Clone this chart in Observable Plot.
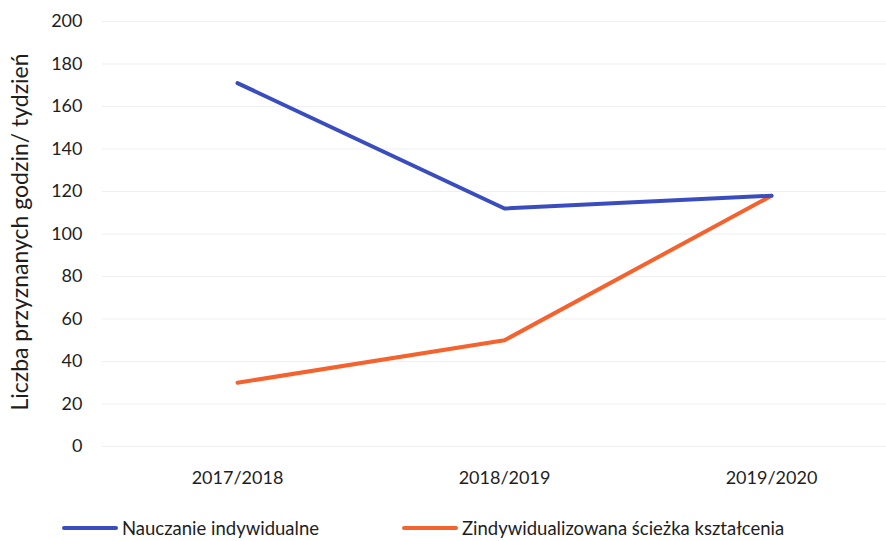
<!DOCTYPE html>
<html><head><meta charset="utf-8">
<script src="https://cdn.jsdelivr.net/npm/d3@7"></script>
<script src="https://cdn.jsdelivr.net/npm/@observablehq/plot@0.6"></script>
<style>
body{margin:0;background:#fff;font-family:Lato,"Open Sans",sans-serif;}
#legend{position:relative;height:41px;font-size:18.5px;color:#1e1e1e;}
.item{position:absolute;top:17px;display:flex;align-items:center;}
.sw{display:inline-block;width:56px;height:4px;border-radius:2px;margin-right:4px;}
</style></head>
<body><div id="chart"></div><div id="legend"></div>
<script>
const years = ["2017/2018","2018/2019","2019/2020"];
const indywidualne = [171, 112, 118];
const sciezka = [30, 50, 118];
const yTicks = [0,20,40,60,80,100,120,140,160,180,200];
const seriesNames = ["Nauczanie indywidualne","Zindywidualizowana ścieżka kształcenia"];
const yLabel = "Liczba przyznanych godzin/ tydzień";
const colors = ["#3a4dbf","#f4622e"];

const blue = years.map((y,i)=>({year:y,value:indywidualne[i]}));
const orange = years.map((y,i)=>({year:y,value:sciezka[i]}));

const plot = Plot.plot({
  width: 886, height: 500,
  marginLeft: 102, marginRight: 0, marginTop: 21, marginBottom: 54,
  style: {fontFamily: "Lato, 'Open Sans', sans-serif", fontSize: "18px", color: "#1e1e1e"},
  x: {type: "point", domain: years, range: [236, 771], padding: 0, label: null},
  y: {domain: [0, 200], ticks: yTicks, label: null},
  marks: [
    Plot.gridY(yTicks, {stroke: "#efefef", strokeOpacity: 1, strokeWidth: 1}),
    Plot.axisX({tickSize: 0, tickPadding: 25, fontSize: 18}),
    Plot.axisY({ticks: yTicks, tickSize: 0, tickPadding: 20, fontSize: 18, label: null}),
    Plot.text([yLabel], {frameAnchor: "left", textAnchor: "middle", rotate: -90, dx: -82, dy: -2, fontSize: 23, fill: "#1e1e1e"}),
    Plot.line(orange, {x: "year", y: "value", stroke: colors[1], strokeWidth: 4, curve: "linear", strokeLinecap: "round", strokeLinejoin: "round"}),
    Plot.line(blue, {x: "year", y: "value", stroke: colors[0], strokeWidth: 4, curve: "linear", strokeLinecap: "round", strokeLinejoin: "round"})
  ]
});
document.getElementById("chart").appendChild(plot);
const lg = document.getElementById("legend");
const pos = [62, 402];
seriesNames.forEach((n,i)=>{
  const d = document.createElement("div"); d.className="item"; d.style.left = pos[i]+"px";
  d.innerHTML = `<span class="sw" style="background:${colors[i]}"></span><span>${n}</span>`;
  lg.appendChild(d);
});
</script></body></html>
